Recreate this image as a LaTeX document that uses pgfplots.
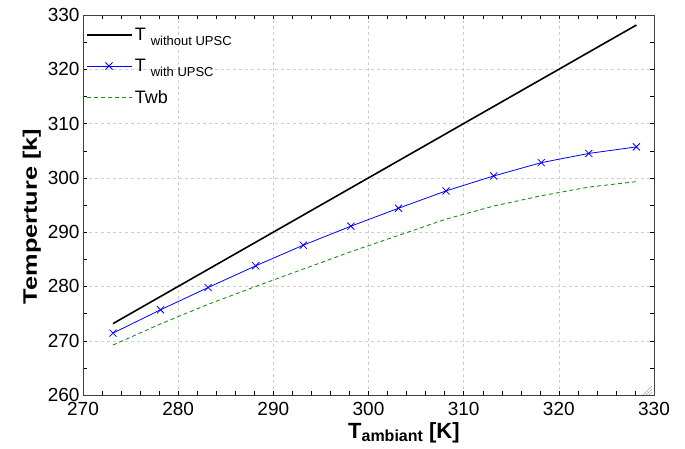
\documentclass[border=0pt]{standalone}
\usepackage{pgfplots}
\pgfplotsset{compat=1.18}
\usepackage{fontspec}
\setmainfont{Liberation Sans}

\definecolor{wbgreen}{RGB}{25,145,25}
\definecolor{gridgray}{RGB}{205,205,205}

\newcommand{\sub}[1]{\hspace{5pt}\raisebox{-5pt}{\fontsize{13}{13}\selectfont #1}}

\begin{document}
\begin{tikzpicture}
\begin{axis}[
    scale only axis,
    width=571pt, height=380pt,
    xmin=270, xmax=330, ymin=260, ymax=330,
    xtick={270,280,...,330}, ytick={260,270,...,330},
    minor x tick num=4, minor y tick num=1,
    tick align=inside,
    major tick length=4pt, minor tick length=4pt,
    xmajorgrids, ymajorgrids,
    grid style={gridgray, dash pattern=on 3pt off 3pt},
    axis line style={black!75},
    tick style={black, thin},
    ticklabel style={font=\fontsize{19}{19}\selectfont},
    xticklabel style={yshift=-4pt},
    /pgf/number format/assume math mode=true,
    /pgf/number format/1000 sep={},
    xlabel={T\raisebox{-0.2ex}{\fontsize{16}{16}\selectfont\bfseries ambiant} [K]},
    ylabel={\scalebox{1.3}[1]{Temperture [k]}},
    xlabel style={font=\fontsize{22}{22}\selectfont\bfseries,
        at={(ticklabel cs:0.562)}, yshift=0pt},
    ylabel style={font=\fontsize{19.5}{19.5}\selectfont\bfseries,
        at={(ticklabel cs:0.47)}},
    legend cell align=left,
    legend style={draw=none, fill=none, at={(0,1)}, anchor=north west,
        xshift=0pt, yshift=-9pt,
        font=\fontsize{18}{18}\selectfont, row sep=13pt},
    legend image code/.code={
        \path[draw=none, fill=none] (0pt,-6pt) rectangle (45pt,6pt);
        \draw[mark repeat=2, mark phase=2, #1]
            plot coordinates {(0pt,0pt) (22pt,0pt) (45pt,0pt)};},
]
\addplot[black, line width=1.6pt] table {
    273.15 273.15
    278.15 278.15
    283.15 283.15
    288.15 288.15
    293.15 293.15
    298.15 298.15
    303.15 303.15
    308.15 308.15
    313.15 313.15
    318.15 318.15
    323.15 323.15
    328.15 328.15
};
\addlegendentry{T\sub{without UPSC}}

\addplot[blue, line width=0.8pt, mark=x, mark size=5pt] table {
    273.15 271.4
    278.15 275.7
    283.15 279.8
    288.15 283.8
    293.15 287.6
    298.15 291.1
    303.15 294.4
    308.15 297.6
    313.15 300.35
    318.15 302.8
    323.15 304.5
    328.15 305.7
};
\addlegendentry{T\sub{with UPSC}}

\addplot[wbgreen, line width=0.9pt, dash pattern=on 4pt off 3pt] table {
    273.15 269.2
    278.15 273.1
    283.15 276.7
    288.15 280.0
    293.15 283.2
    298.15 286.4
    303.15 289.4
    308.15 292.4
    313.15 294.8
    318.15 296.7
    323.15 298.3
    328.15 299.3
};
\addlegendentry{Twb}

% resize grip in the lower right corner
\draw[gray!70, line width=0.6pt]
    ([xshift=-2pt,yshift=3pt]rel axis cs:1,0) -- ([xshift=-5pt]rel axis cs:1,0)
    ([xshift=-2pt,yshift=6pt]rel axis cs:1,0) -- ([xshift=-8pt]rel axis cs:1,0)
    ([xshift=-2pt,yshift=9pt]rel axis cs:1,0) -- ([xshift=-11pt]rel axis cs:1,0);
\end{axis}
\pgfresetboundingbox
\path ([xshift=-83pt,yshift=-54pt]current axis.south west)
    rectangle ([xshift=31pt,yshift=15pt]current axis.north east);
\end{tikzpicture}
\end{document}
